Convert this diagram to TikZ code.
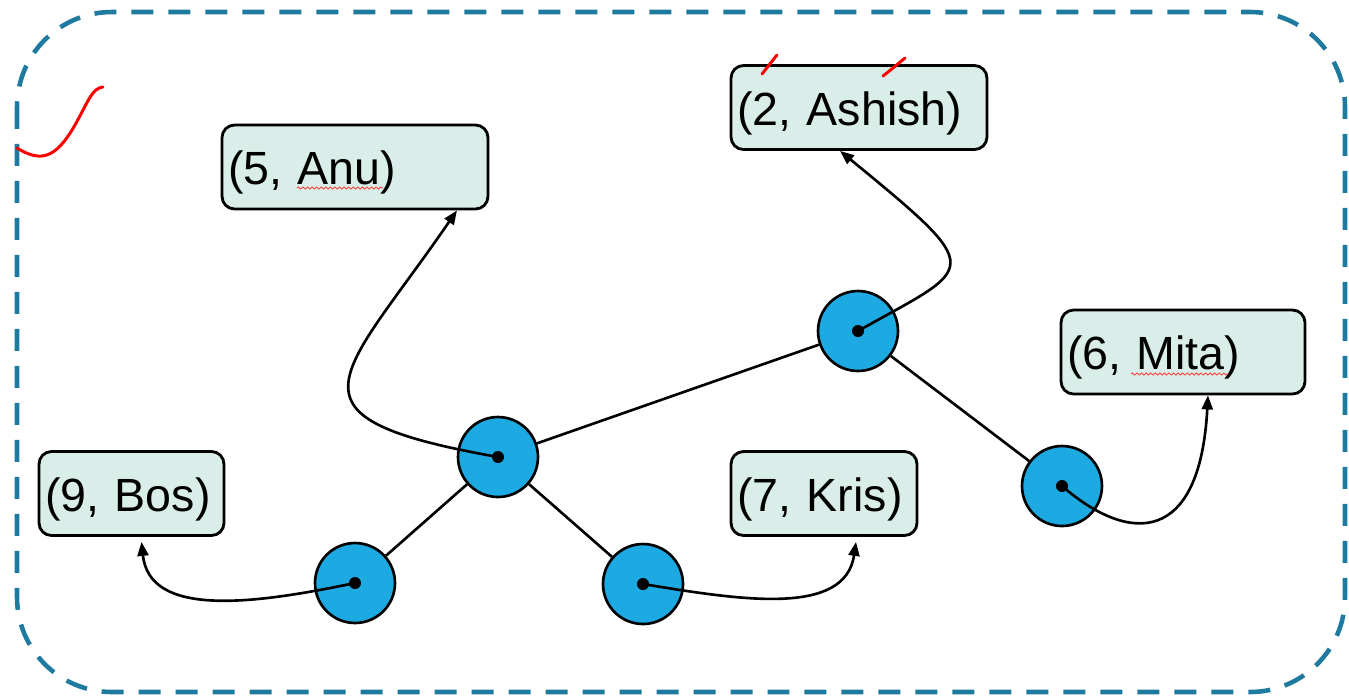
\documentclass[tikz,border=0pt]{standalone}
\usepackage{fontspec}
\setmainfont{Liberation Sans}
\usetikzlibrary{positioning, arrows.meta, decorations.pathmorphing}

\definecolor{recordgreen}{RGB}{217,238,232}
\definecolor{keyblue}{RGB}{29,169,225}
\definecolor{frameblue}{RGB}{31,122,160}

\tikzset{
        key/.style={draw, circle, line width=1.5pt, fill=keyblue, minimum size=1.6cm, inner sep=0pt}, % the tree nodes
        record/.style={draw, line width=1.6pt, rounded corners=0.25cm, fill=recordgreen, minimum height=1.68cm, inner xsep=0.12cm, text width=#1, text height=0.76cm, text depth=0.06cm, align=left, font=\fontsize{26.5}{30}\selectfont}, % the (key, name) boxes
        link/.style={line width=1.5pt}, % edges between tree nodes
        ptr/.style={line width=1.5pt, -{Triangle[length=0.28cm, width=0.22cm]}}, % pointer from a node to its record
        squiggle/.style={red!75, line width=0.5pt, decorate, decoration={snake, amplitude=0.6pt, segment length=2.6pt}}, % spell check marks
        pen/.style={red, line width=1.7pt, line cap=round}, % hand drawn marks
        }

\begin{document}
\begin{tikzpicture}[x=0.02cm, y=-0.02cm]
        \useasboundingbox (0,0) rectangle (1349,698);

        % dashed frame round everything
        \draw[frameblue, line width=2.6pt, dash pattern=on 0.44cm off 0.3cm, rounded corners=1.9cm] (17,12) rectangle (1345,692);

        % records
        \node[record=4.88cm] (ashish) at (859,107.5) {(2, Ashish)};
        \node[record=5.08cm] (anu) at (355,167) {(5, Anu)};
        \node[record=4.64cm] (mita) at (1183,352) {(6, Mita)};
        \node[record=3.46cm] (bos) at (131.5,493.5) {(9, Bos)};
        \node[record=3.48cm] (kris) at (824,493.5) {(7, Kris)};

        % tree nodes
        \node[key] (k5) at (498,457) {};
        \node[key] (k2) at (858,331) {};
        \node[key] (k6) at (1062,486) {};
        \node[key] (k9) at (355,583) {};
        \node[key] (k7) at (643,584) {};

        \draw[link] (k5) -- (k2);
        \draw[link] (k5) -- (k9);
        \draw[link] (k5) -- (k7);
        \draw[link] (k2) -- (k6);

        % pointers to the records
        \draw[ptr] (k5.center) .. controls +(-225,-40) and +(-117,170) .. ([xshift=2.04cm]anu.south);
        \draw[ptr] (k2.center) .. controls +(117,-66) and +(150,123) .. ([xshift=-0.38cm]ashish.south);
        \draw[ptr] (k6.center) .. controls +(68,59) and +(-8,149) .. ([xshift=0.5cm]mita.south);
        \draw[ptr] (k9.center) .. controls +(-105,22) and +(8,75) .. ([xshift=0.2cm, yshift=-0.1cm]bos.south);
        \draw[ptr] (k7.center) .. controls +(97,16) and +(-11,75) .. ([xshift=0.64cm, yshift=-0.1cm]kris.south);

        \foreach \k in {k5, k2, k6, k9, k7}
                \fill (\k.center) circle (0.12cm);

        % marks on top
        \draw[squiggle] (297,188) -- (383,188);
        \draw[squiggle] (1131,374) -- (1228,374);
        \draw[pen] (17,148) .. controls (40,162) and (55,160) .. (75,125) .. controls (88,102) and (92,88) .. (103,87);
        \draw[pen] (762,74) -- (777,55);
        \draw[pen] (883,76) .. controls (893,68) .. (905,58);
\end{tikzpicture}
\end{document}
